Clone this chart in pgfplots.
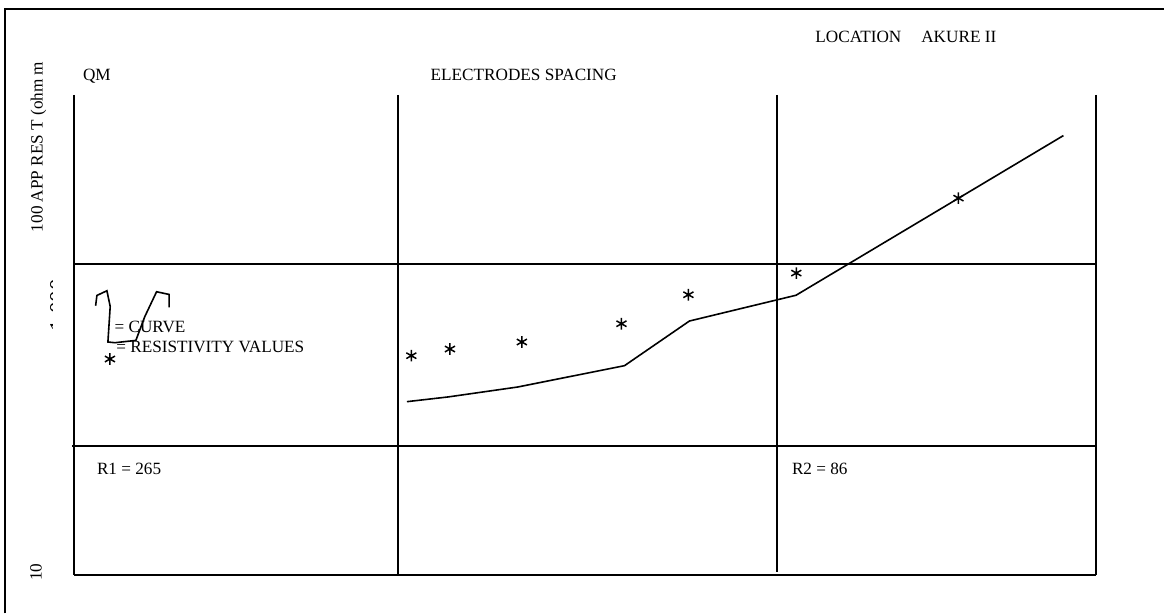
\documentclass[border=0pt]{standalone}
\usepackage{fontspec}
\setmainfont{Liberation Serif}
\usepackage{pgfplots}
\pgfplotsset{compat=1.18}

\begin{document}
\begin{tikzpicture}[font=\fontsize{8.6}{10}\selectfont]
\begin{axis}[
  x=0.5pt, y=0.5pt, y dir=reverse,
  xmin=0, xmax=1165, ymin=0, ymax=614,
  hide axis, clip=false,
]
% page extent
\addplot[draw=none] coordinates {(0,0) (1165,614)};
% outer frame (top and left only)
\addplot[black, line width=1pt] coordinates {(5.5,614) (5.5,9) (1165,9)};
% grid of the sounding sheet
\addplot[black, line width=1pt] coordinates {(74,95) (74,575)};
\addplot[black, line width=1pt] coordinates {(398.5,95) (398.5,575)};
\addplot[black, line width=1pt] coordinates {(778,95) (778,572)};
\addplot[black, line width=1pt] coordinates {(1096.5,95) (1096.5,575)};
\addplot[black, line width=1pt] coordinates {(74,264) (1096.5,264)};
\addplot[black, line width=1pt] coordinates {(72,446.5) (1096.5,446.5)};
\addplot[black, line width=1pt] coordinates {(74,575) (1096.5,575)};
% model curve
\addplot[black, line width=0.8pt] coordinates {
  (407.3,402) (448.3,397.3) (518.3,387.3) (625,366) (690,321.3) (796.7,295.5) (1064.3,135.7)
};
% apparent resistivity values
\addplot[only marks, mark=asterisk, mark size=2.9pt, mark options={line width=0.75pt}] coordinates {
  (411.7,356) (450.3,349.3) (522.3,342.3) (622,324) (689,295) (797,273.3) (959.3,198.3)
};
% legend glyphs
\addplot[black, line width=0.8pt] coordinates {
  (95.7,306) (97,295.7) (107,291) (110.3,306.7) (108,342.3) (115,343) (136,340.7) (145,316.7) (156.7,292) (169.3,294.7) (169.3,307.7)
};
\addplot[only marks, mark=asterisk, mark size=2.9pt, mark options={line width=0.75pt}] coordinates {(110,359.3)};

% texts
\node[anchor=base west, inner sep=0pt] at (axis cs:815.7,42.7) {LOCATION};
\node[anchor=base west, inner sep=0pt] at (axis cs:921.7,42.7) {AKURE II};
\node[anchor=base west, inner sep=0pt] at (axis cs:82.7,80.7) {QM};
\node[anchor=base west, inner sep=0pt] at (axis cs:430.7,80.7) {ELECTRODES SPACING};
\node[rotate=90, anchor=base west, inner sep=0pt] at (axis cs:42.7,232.7) {100 APP RES T (ohm m};
\node[rotate=90, anchor=base west, inner sep=0pt] at (axis cs:41.7,581.7) {10};
\begin{scope}
  \clip (axis cs:48.5,280) rectangle (axis cs:53,340);
  \node[rotate=90, anchor=base west, inner sep=0pt, font=\fontsize{11.5}{13}\selectfont] at (axis cs:65.5,331.7) {1 000};
\end{scope}
\node[anchor=base west, inner sep=0pt] at (axis cs:114.3,332.7) {= CURVE};
\node[anchor=base west, inner sep=0pt] at (axis cs:116,352.3) {= RESISTIVITY VALUES};
\node[anchor=base west, inner sep=0pt] at (axis cs:96.7,474.7) {R1 = 265};
\node[anchor=base west, inner sep=0pt] at (axis cs:792.3,474.7) {R2 = 86};
\end{axis}
\end{tikzpicture}
\end{document}
